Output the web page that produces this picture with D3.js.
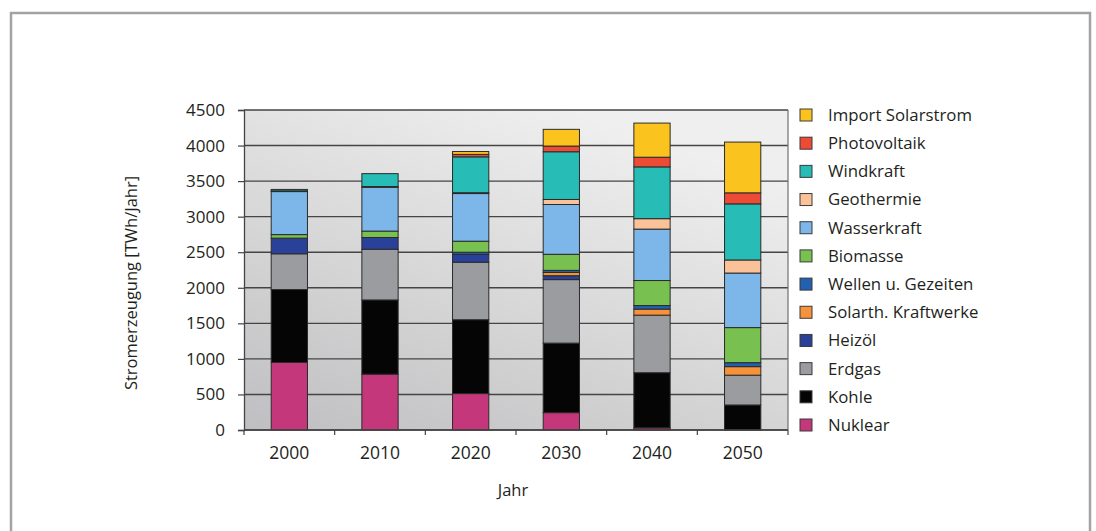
<!DOCTYPE html>
<html>
<head>
<meta charset="utf-8">
<script src="https://cdn.jsdelivr.net/npm/d3@7/dist/d3.min.js"></script>
<style>
  html, body { margin: 0; padding: 0; background: #fff; }
  svg { display: block; font-family: "Open Sans", "Noto Sans", sans-serif; }
</style>
</head>
<body>
<svg id="chart" width="1096" height="531"></svg>
<script>
// Stromerzeugung nach Energieträger, TWh/Jahr
const years = ["2000", "2010", "2020", "2030", "2040", "2050"];

const nuklear      = [950, 785, 512, 244, 30, 0];
const kohle        = [1025, 1044, 1039, 978, 776, 352];
const erdgas       = [503, 713, 808, 893, 809, 419];
const heizoel      = [220, 165, 111, 55, 0, 0];
const solarth      = [0, 0, 0, 45, 85, 120];
const wellen       = [0, 0, 30, 30, 50, 56];
const biomasse     = [50, 90, 155, 226, 352, 493];
const wasserkraft  = [605, 615, 670, 700, 723, 767];
const geothermie   = [10, 12, 12, 71, 147, 184];
const windkraft    = [20, 181, 504, 671, 728, 789];
const photovoltaik = [0, 0, 35, 80, 136, 155];
const importSolar  = [0, 0, 40, 235, 480, 714];

const yTicks = [0, 500, 1000, 1500, 2000, 2500, 3000, 3500, 4000, 4500];

// stacking order, bottom to top
const seriesNames = ["Nuklear", "Kohle", "Erdgas", "Heizöl", "Solarth. Kraftwerke",
  "Wellen u. Gezeiten", "Biomasse", "Wasserkraft", "Geothermie", "Windkraft",
  "Photovoltaik", "Import Solarstrom"];
const seriesValues = [nuklear, kohle, erdgas, heizoel, solarth, wellen, biomasse,
  wasserkraft, geothermie, windkraft, photovoltaik, importSolar];
const seriesColors = ["#c4377a", "#050505", "#9b9c9f", "#2a419a", "#f6923a",
  "#2361b0", "#78c151", "#7db6e8", "#fbc29a", "#27bcb5", "#ee4b36", "#fbc31e"];

const rows = years.map((y, i) => {
  const r = { year: y };
  seriesNames.forEach((n, k) => r[n] = seriesValues[k][i]);
  return r;
});

const svg = d3.select("#chart");
const W = 1096, H = 531;

// outer frame
svg.append("path")
  .attr("d", `M11,${H + 5} V13 H1090 V${H + 5}`)
  .attr("fill", "none").attr("stroke", "#a3a3a3").attr("stroke-width", 2.5);

const plot = { left: 244, right: 788, top: 110, bottom: 430 };

const x = d3.scaleBand().domain(years).range([plot.left, plot.right]).paddingInner(0.6).paddingOuter(0.3);
const y = d3.scaleLinear().domain([0, 4500]).range([plot.bottom, plot.top]);

// plot background
const defs = svg.append("defs");
const grad = defs.append("linearGradient").attr("id", "bg")
  .attr("x1", 0).attr("y1", 1).attr("x2", 0.6).attr("y2", 0);
grad.append("stop").attr("offset", 0).attr("stop-color", "#bfbfc1");
grad.append("stop").attr("offset", 1).attr("stop-color", "#efefef");

svg.append("rect")
  .attr("x", plot.left).attr("y", plot.top)
  .attr("width", plot.right - plot.left).attr("height", plot.bottom - plot.top)
  .attr("fill", "url(#bg)");

// horizontal gridlines
svg.append("g").selectAll("line").data(yTicks).join("line")
  .attr("x1", plot.left).attr("x2", plot.right)
  .attr("y1", d => y(d)).attr("y2", d => y(d))
  .attr("stroke", "#454545").attr("stroke-width", 1.4);

// right border of plot area
svg.append("line")
  .attr("x1", plot.right).attr("x2", plot.right)
  .attr("y1", plot.top).attr("y2", plot.bottom)
  .attr("stroke", "#707070").attr("stroke-width", 1.2);

// stacked bars
const stack = d3.stack().keys(seriesNames)(rows);
const barG = svg.append("g");
stack.forEach((layer, k) => {
  barG.append("g").selectAll("rect")
    .data(layer.filter(d => d[1] - d[0] > 0))
    .join("rect")
    .attr("x", d => x(d.data.year))
    .attr("width", x.bandwidth())
    .attr("y", d => y(d[1]))
    .attr("height", d => y(d[0]) - y(d[1]))
    .attr("fill", seriesColors[k])
    .attr("stroke", "#2b2b2b").attr("stroke-width", 1);
});

// y axis
const yAxis = svg.append("g")
  .attr("transform", `translate(${plot.left},0)`)
  .call(d3.axisLeft(y).tickValues(yTicks).tickSize(6).tickPadding(13).tickFormat(d3.format("d")));
yAxis.select(".domain").attr("stroke", "#444").attr("stroke-width", 1.3);
yAxis.selectAll(".tick line").attr("stroke", "#444").attr("stroke-width", 1.2);
yAxis.selectAll("text").attr("font-size", 17).attr("fill", "#231f20")
  .attr("font-family", "'Open Sans', sans-serif");

// x axis: ticks on category boundaries
const xAxisG = svg.append("g").attr("transform", `translate(0,${plot.bottom})`);
xAxisG.append("line").attr("x1", plot.left).attr("x2", plot.right)
  .attr("stroke", "#444").attr("stroke-width", 1.3);
const bounds = d3.range(years.length + 1).map(i => plot.left + i * (plot.right - plot.left) / years.length);
xAxisG.selectAll("line.tk").data(bounds).join("line").attr("class", "tk")
  .attr("x1", d => d).attr("x2", d => d).attr("y1", 0).attr("y2", 5)
  .attr("stroke", "#444").attr("stroke-width", 1.2);
xAxisG.selectAll("text").data(years).join("text")
  .attr("x", d => x(d) + x.bandwidth() / 2)
  .attr("y", 29)
  .attr("text-anchor", "middle")
  .attr("font-size", 17.5).attr("fill", "#231f20")
  .text(d => d);

// axis titles
svg.append("text")
  .attr("x", 513).attr("y", 496)
  .attr("text-anchor", "middle").attr("font-size", 16.5).attr("fill", "#231f20")
  .text("Jahr");
svg.append("text")
  .attr("transform", "translate(137,283) rotate(-90)")
  .attr("text-anchor", "middle").attr("font-size", 16.5).attr("fill", "#231f20")
  .text("Stromerzeugung [TWh/Jahr]");

// legend, top entry is the top of the stack
const legend = svg.append("g");
const legendItems = seriesNames.map((n, k) => ({ name: n, color: seriesColors[k] })).reverse();
const ly = d3.scalePoint().domain(legendItems.map(d => d.name)).range([115, 425]);
const li = legend.selectAll("g").data(legendItems).join("g")
  .attr("transform", d => `translate(0,${ly(d.name)})`);
li.append("rect").attr("x", 800).attr("y", -6).attr("width", 12).attr("height", 12)
  .attr("fill", d => d.color).attr("stroke", "#3a3a3a").attr("stroke-width", 1);
li.append("text").attr("x", 828).attr("y", 0).attr("dy", "0.35em")
  .attr("font-size", 16.8).attr("fill", "#231f20")
  .text(d => d.name);
</script>
</body>
</html>
